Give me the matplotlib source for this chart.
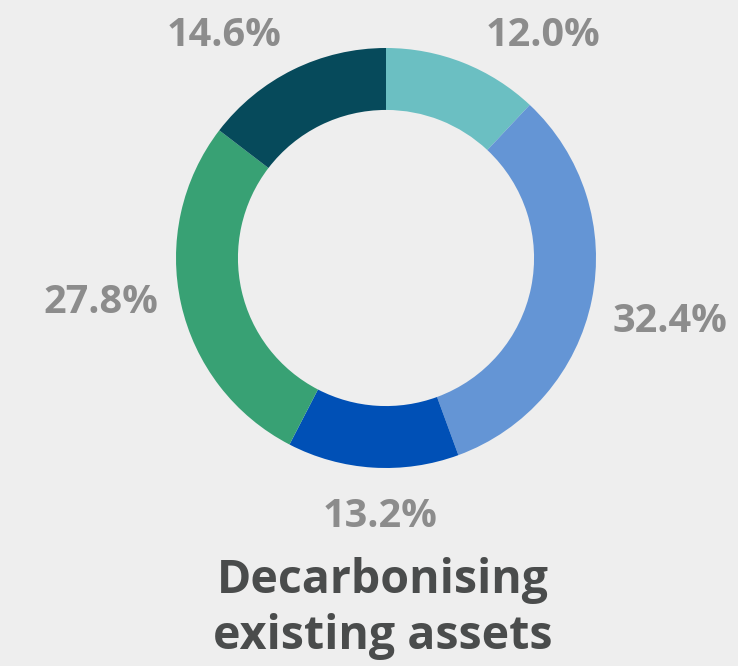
import matplotlib.pyplot as plt

# slice shares, clockwise from 12 o'clock
values = [12.0, 32.4, 13.2, 27.8, 14.6]
labels = ['12.0%', '32.4%', '13.2%', '27.8%', '14.6%']
colors = ['#6bbfc2', '#6495d5', '#0050b6', '#38a174', '#064a5b']
title = 'Decarbonising\nexisting assets'

# label spots in pie radius units (hand placed to mimic the original)
label_pos = [(0.75, 1.06), (1.35, -0.30), (-0.03, -1.23), (-1.36, -0.21), (-0.77, 1.06)]

bg = '#eeeeee'
fig = plt.figure(figsize=(7.38, 6.66), dpi=100, facecolor=bg)
ax = fig.add_axes([176 / 738, 198 / 666, 420 / 738, 420 / 666])
ax.set_facecolor(bg)

ax.pie(values, colors=colors, startangle=90, counterclock=False,
       radius=1.0, wedgeprops=dict(width=0.295, linewidth=0))
ax.set_xlim(-1, 1)
ax.set_ylim(-1, 1)
ax.set_aspect('equal')
ax.axis('off')

for lab, (x, y) in zip(labels, label_pos):
    ax.text(x, y, lab, ha='center', va='center', fontsize=28.5,
            fontweight='bold', color='#8c8c8c', family='Open Sans',
            clip_on=False)

fig.text(383 / 738, 1 - 608 / 666, title, ha='center', va='center',
         fontsize=33.5, fontweight='bold', color='#4a4c4c', family='Open Sans',
         linespacing=1.25)

fig.savefig('out.png', dpi=100, facecolor=bg)
